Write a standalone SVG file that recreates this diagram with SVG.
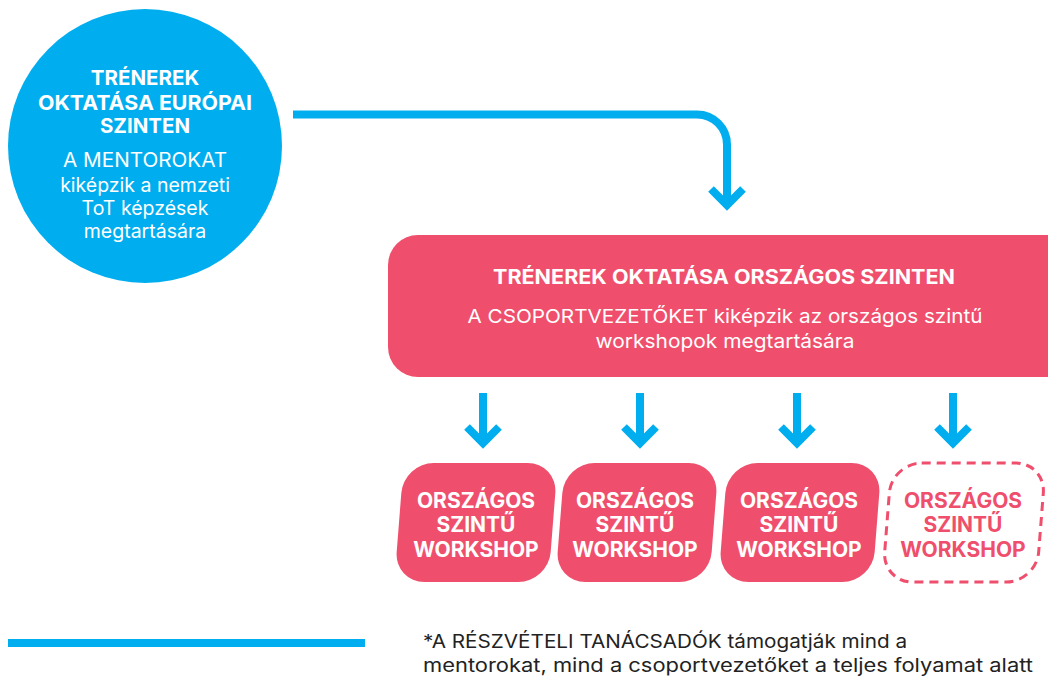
<svg xmlns="http://www.w3.org/2000/svg" width="1048" height="679" viewBox="0 0 1048 679">
<style>
.blue{fill:#00AEEF}
.pink{fill:#EF4F6C}
.conn{fill:none;stroke:#00AEEF;stroke-width:8;stroke-linejoin:miter}
.hb{font-family:Inter,"Liberation Sans",sans-serif;font-weight:700;fill:#fff;text-anchor:middle}
.hr{font-family:Inter,"Liberation Sans",sans-serif;font-weight:400;fill:#fff;text-anchor:middle}
.ws{font-family:Inter,"Liberation Sans",sans-serif;font-weight:700;font-size:21px;text-anchor:middle;fill:#fff}
.foot{font-family:Inter,"Liberation Sans",sans-serif;font-weight:400;font-size:18.5px;fill:#222}
</style>
<rect width="1048" height="679" fill="#fff"/>
<g id="european">
<circle class="blue" cx="145" cy="146" r="137"/>
<text class="hb" font-size="20.5"><tspan x="145" y="85">TRÉNEREK</tspan><tspan x="145" y="110" textLength="214" lengthAdjust="spacingAndGlyphs">OKTATÁSA EURÓPAI</tspan><tspan x="145" y="133">SZINTEN</tspan></text>
<text class="hr" font-size="19.5"><tspan x="145" y="167" textLength="164" lengthAdjust="spacingAndGlyphs">A MENTOROKAT</tspan><tspan x="145" y="192">kiképzik a nemzeti</tspan><tspan x="145" y="215">ToT képzések</tspan><tspan x="145" y="238">megtartására</tspan></text>
</g>
<g id="national">
<rect class="pink" x="388" y="235" width="720" height="142" rx="30"/>
<text class="hb" x="724" y="284" font-size="19.5" textLength="462" lengthAdjust="spacingAndGlyphs">TRÉNEREK OKTATÁSA ORSZÁGOS SZINTEN</text>
<text class="hr" font-size="19"><tspan x="725" y="323" textLength="515" lengthAdjust="spacingAndGlyphs">A CSOPORTVEZETŐKET kiképzik az országos szintű</tspan><tspan x="725" y="348" textLength="259" lengthAdjust="spacingAndGlyphs">workshopok megtartására</tspan></text>
</g>
<g id="connectors">
<path class="conn" d="M293,114.5 H697 A30,30 0 0 1 727,144.5 V203"/>
<path class="conn" d="M711,189 L727,205 L743,189"/>
<path class="conn" d="M483,393 V443 M467,427 L483,443 L499,427"/>
<path class="conn" d="M640,393 V443 M624,427 L640,443 L656,427"/>
<path class="conn" d="M797,393 V443 M781,427 L797,443 L813,427"/>
<path class="conn" d="M953,393 V443 M937,427 L953,443 L969,427"/>
</g>
<g id="workshop1">
<rect class="pink" x="-77" y="-59.5" width="154" height="119" rx="30" transform="translate(476,522.5) skewX(-4.5)"/>
<text class="ws"><tspan x="476" y="508">ORSZÁGOS</tspan><tspan x="476" y="532">SZINTŰ</tspan><tspan x="476" y="557">WORKSHOP</tspan></text>
</g>
<g id="workshop2">
<rect class="pink" x="-77" y="-59.5" width="154" height="119" rx="30" transform="translate(637,522.5) skewX(-4.5)"/>
<text class="ws"><tspan x="635" y="508">ORSZÁGOS</tspan><tspan x="635" y="532">SZINTŰ</tspan><tspan x="635" y="557">WORKSHOP</tspan></text>
</g>
<g id="workshop3">
<rect class="pink" x="-77" y="-59.5" width="154" height="119" rx="30" transform="translate(800,522.5) skewX(-4.5)"/>
<text class="ws"><tspan x="799" y="508">ORSZÁGOS</tspan><tspan x="799" y="532">SZINTŰ</tspan><tspan x="799" y="557">WORKSHOP</tspan></text>
</g>
<g id="workshop4">
<rect x="-77" y="-59.5" width="154" height="119" rx="30" fill="none" stroke="#EF4F6C" stroke-width="3" stroke-dasharray="9 6" transform="translate(964,522.5) skewX(-4.5)"/>
<text class="ws" style="fill:#EF4F6C"><tspan x="963" y="508">ORSZÁGOS</tspan><tspan x="963" y="532">SZINTŰ</tspan><tspan x="963" y="557">WORKSHOP</tspan></text>
</g>
<g id="footer">
<rect class="blue" x="8" y="639" width="357" height="8"/>
<text class="foot"><tspan x="423" y="648" textLength="484" lengthAdjust="spacingAndGlyphs">*A RÉSZVÉTELI TANÁCSADÓK támogatják mind a</tspan><tspan x="423" y="672" textLength="610" lengthAdjust="spacingAndGlyphs">mentorokat, mind a csoportvezetőket a teljes folyamat alatt</tspan></text>
</g>
</svg>
